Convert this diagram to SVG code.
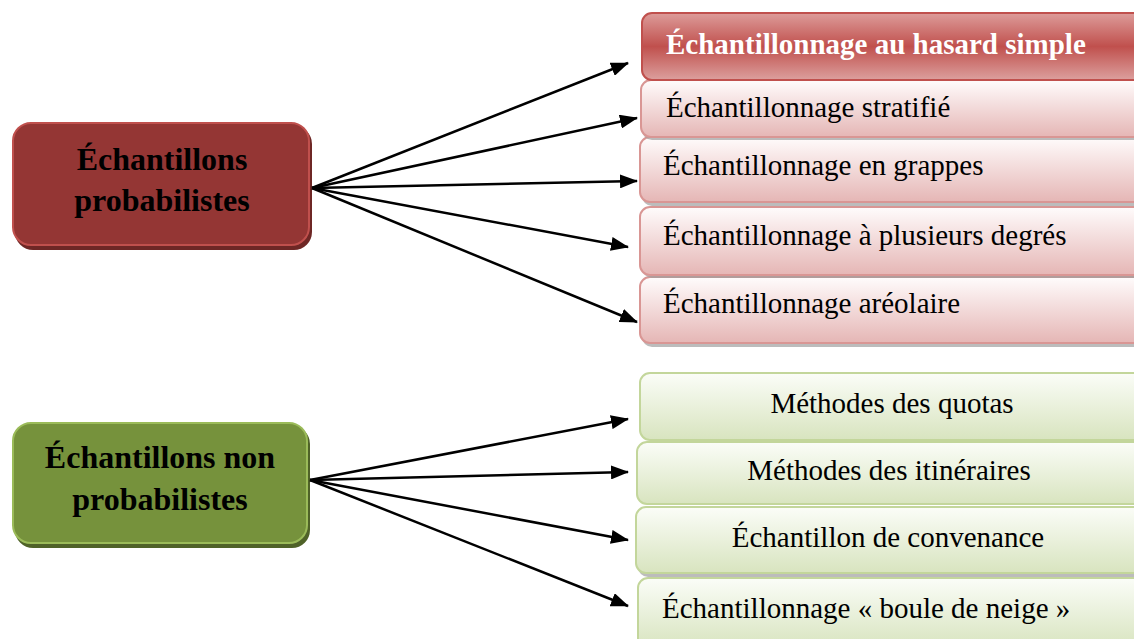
<svg xmlns="http://www.w3.org/2000/svg" width="1134" height="639" viewBox="0 0 1134 639">
<defs>
<linearGradient id="gRedHead" x1="0" y1="0" x2="0" y2="1">
<stop offset="0" stop-color="#dd9c9a"/>
<stop offset="0.5" stop-color="#c0504d"/>
<stop offset="1" stop-color="#dca09e"/>
</linearGradient>
<linearGradient id="gPink" x1="0" y1="0" x2="0" y2="1">
<stop offset="0" stop-color="#fffcfc"/>
<stop offset="1" stop-color="#e5b6b5"/>
</linearGradient>
<linearGradient id="gGreen" x1="0" y1="0" x2="0" y2="1">
<stop offset="0" stop-color="#fbfdf8"/>
<stop offset="1" stop-color="#d8e4bf"/>
</linearGradient>
<marker id="ah" markerUnits="userSpaceOnUse" markerWidth="18" markerHeight="14" refX="17" refY="7" orient="auto">
<path d="M0,0 L18,7 L0,14 Z" fill="#000"/>
</marker>
</defs>
<style>
.bigt{font-family:"Liberation Serif","Times New Roman",serif;font-weight:bold;font-size:32px;fill:#000;text-anchor:middle}
.t{font-family:"Liberation Serif","Times New Roman",serif;font-size:29px;fill:#000}
.tc{text-anchor:middle}
.pink{fill:url(#gPink);stroke:#d99694;stroke-width:2}
.green{fill:url(#gGreen);stroke:#c3d69b;stroke-width:2}
.sh{fill:#a0a0a0;opacity:0.7}
.conn line{stroke:#000;stroke-width:2.5;marker-end:url(#ah)}
</style>
<rect width="1134" height="639" fill="#fff"/>

<g id="node-probabilistes">
<rect x="15" y="126" width="297" height="124" rx="18" fill="#6e2725"/>
<rect x="13" y="123" width="296" height="122" rx="18" fill="#943634" stroke="#c0504d" stroke-width="2"/>
<text class="bigt" x="162" y="170">Échantillons</text>
<text class="bigt" x="162" y="211">probabilistes</text>
</g>

<g id="node-non-probabilistes">
<rect x="15" y="426" width="295" height="122" rx="18" fill="#4f6228"/>
<rect x="13" y="423" width="294" height="120" rx="18" fill="#76923c" stroke="#9bbb59" stroke-width="2"/>
<text class="bigt" x="160" y="468">Échantillons non</text>
<text class="bigt" x="160" y="510">probabilistes</text>
</g>

<g id="node-areolaire">
<rect x="642" y="280" width="510" height="67" rx="10" class="sh"/>
<rect x="640" y="277" width="510" height="66" rx="10" class="pink"/>
<text class="t" x="663" y="313">Échantillonnage aréolaire</text>
</g>
<g id="node-plusieurs-degres">
<rect x="642" y="210" width="510" height="68" rx="10" class="sh"/>
<rect x="640" y="207" width="510" height="68" rx="10" class="pink"/>
<text class="t" x="663" y="245">Échantillonnage à plusieurs degrés</text>
</g>
<g id="node-grappes">
<rect x="642" y="140" width="510" height="66" rx="10" class="sh"/>
<rect x="640" y="137" width="510" height="65" rx="10" class="pink"/>
<text class="t" x="663" y="175">Échantillonnage en grappes</text>
</g>
<g id="node-stratifie">
<rect x="642" y="82" width="510" height="58" rx="10" class="sh"/>
<rect x="641" y="80" width="510" height="57" rx="10" class="pink"/>
<text class="t" x="666" y="117">Échantillonnage stratifié</text>
</g>
<g id="node-hasard-simple">
<rect x="642" y="13" width="510" height="67" rx="10" fill="url(#gRedHead)" stroke="#c0504d" stroke-width="2"/>
<text class="t" x="666" y="54" style="font-weight:bold;fill:#fff">Échantillonnage au hasard simple</text>
</g>

<g id="node-boule-de-neige">
<rect x="638" y="578" width="510" height="70" rx="10" class="green"/>
<text class="t" x="662" y="618">Échantillonnage « boule de neige »</text>
</g>
<g id="node-convenance">
<rect x="638" y="510" width="510" height="67" rx="10" class="sh"/>
<rect x="636" y="507" width="510" height="66" rx="10" class="green"/>
<text class="t tc" x="888" y="547">Échantillon de convenance</text>
</g>
<g id="node-itineraires">
<rect x="637" y="442" width="510" height="62" rx="10" class="green"/>
<text class="t tc" x="889" y="480">Méthodes des itinéraires</text>
</g>
<g id="node-quotas">
<rect x="640" y="373" width="510" height="67" rx="10" class="green"/>
<text class="t tc" x="892" y="413">Méthodes des quotas</text>
</g>

<g id="connectors" class="conn">
<line x1="312" y1="188" x2="628" y2="63"/>
<line x1="312" y1="188" x2="637" y2="118"/>
<line x1="312" y1="188" x2="637" y2="181"/>
<line x1="312" y1="188" x2="628" y2="247"/>
<line x1="312" y1="188" x2="637" y2="322"/>
<line x1="310" y1="480" x2="628" y2="419"/>
<line x1="310" y1="480" x2="628" y2="472"/>
<line x1="310" y1="480" x2="628" y2="540"/>
<line x1="310" y1="480" x2="628" y2="606"/>
</g>
</svg>
